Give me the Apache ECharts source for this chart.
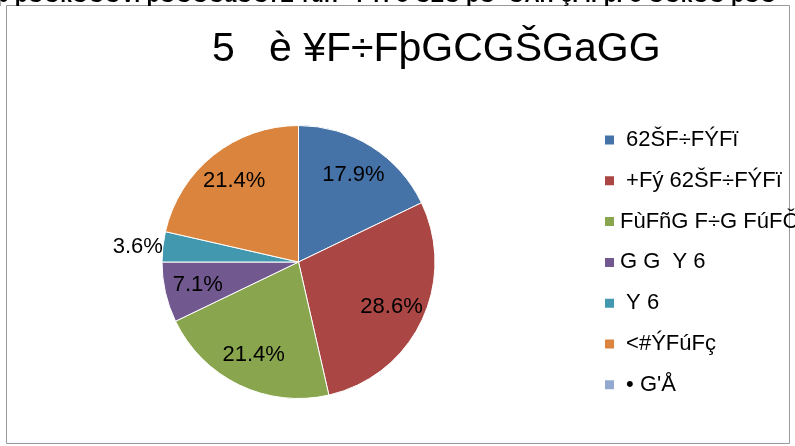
<!DOCTYPE html>
<html><head><meta charset="utf-8">
<script src="https://cdn.jsdelivr.net/npm/echarts@6/dist/echarts.min.js"></script>
<style>html,body{margin:0;padding:0;background:#fff}#c{width:795px;height:446px}</style>
</head><body><div id="c"></div>
<script>
const titleText = '5   è ¥F÷FþGCGŠGaGG';
const headerText = 'þ þÖÖkÖÖÖV: þÖÖÖÖaÖÖ7Z ¥úrF÷FÝFó ÖZÖ þÖ ¨ÖÅrFçFïFþFó ÖÖkÖÖ þÖÖ';
const categories = [' 62ŠF÷FÝFï', ' +Fý 62ŠF÷FÝFï', 'FùFñG F÷G FúFČ', 'G G  Y 6', ' Y 6', ' <#ÝFúFç', ' • G\'Å'];
const values = [5, 8, 6, 2, 1, 6, 0];
const colors = ['#4572A7', '#AA4643', '#89A54E', '#71588F', '#4198AF', '#DB843D', '#93A9CF'];

const FONT = '"Liberation Sans", Arial, sans-serif';
const chart = echarts.init(document.getElementById('c'), null, {renderer: 'canvas'});

const total = values.reduce((a, b) => a + b, 0);
const fillData = categories.map((n, i) => ({name: n, value: values[i], itemStyle: {color: colors[i]}}));
const labelData = categories.map((n, i) => {
  const d = {name: n, value: values[i]};
  if (values[i] === 0) d.label = {show: false};
  else if (values[i] / total < 0.05) {
    d.label = {position: 'outside', distanceToLabelLine: 0};
    d.labelLine = {show: false, length: 0, length2: 0};
  }
  return d;
});

chart.setOption({
  animation: false,
  backgroundColor: '#fff',
  color: colors,
  title: {
    text: titleText,
    left: 212,
    top: 29,
    padding: 0,
    textStyle: {fontFamily: FONT, fontSize: 41, fontWeight: 'normal', color: '#000'}
  },
  graphic: [
    {type: 'rect', shape: {x: 6.5, y: 5.5, width: 783, height: 438}, style: {fill: 'none', stroke: '#9a9a9a', lineWidth: 1}, silent: true},
    {type: 'text', x: -4, y: 7, style: {text: headerText, font: 'bold 21px ' + FONT, fill: '#000', textAlign: 'left', textVerticalAlign: 'bottom'}, silent: true}
  ],
  legend: {
    orient: 'vertical',
    left: 603,
    top: 129,
    padding: 0,
    itemWidth: 11,
    itemHeight: 11,
    itemGap: 18.8,
    icon: 'rect',
    selectedMode: false,
    data: categories,
    textStyle: {fontFamily: FONT, fontSize: 22, color: '#000', lineHeight: 20}
  },
  series: [
    {
      type: 'pie',
      center: [298.5, 262],
      radius: [0, 136.5],
      startAngle: 90,
      clockwise: true,
      silent: true,
      label: {show: false},
      labelLine: {show: false},
      itemStyle: {borderColor: '#ffffff', borderWidth: 1},
      emphasis: {disabled: true},
      data: fillData
    },
    {
      type: 'pie',
      center: [298.5, 262],
      radius: [64, 136.5],
      startAngle: 90,
      clockwise: true,
      silent: true,
      avoidLabelOverlap: false,
      percentPrecision: 1,
      itemStyle: {color: 'rgba(0,0,0,0)', borderWidth: 0},
      label: {show: true, position: 'inside', formatter: '{d}%', fontFamily: FONT, fontSize: 22, color: '#000'},
      labelLine: {show: false},
      emphasis: {disabled: true},
      data: labelData
    }
  ]
});
</script>
</body></html>
